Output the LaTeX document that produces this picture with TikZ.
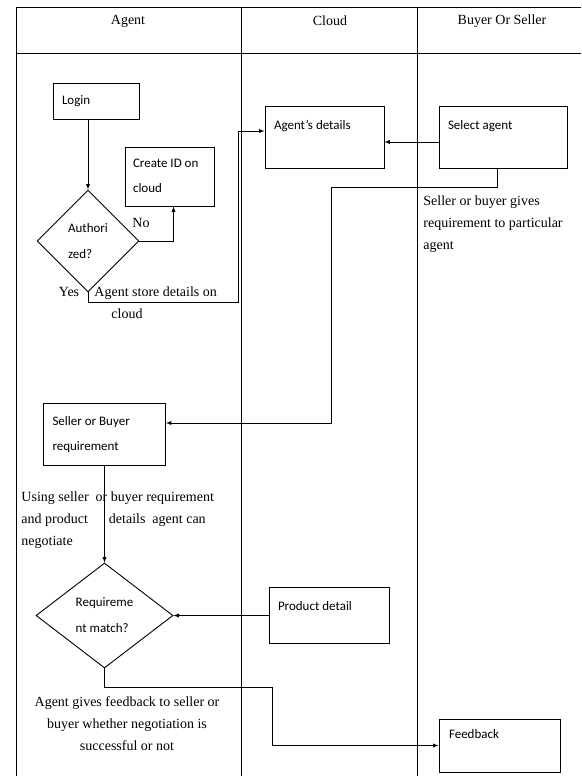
\documentclass[tikz,border=0pt]{standalone}
\usepackage{fontspec}
\setmainfont{Liberation Serif}
\newfontfamily\boxtextfont{Carlito}
\usetikzlibrary{arrows,shapes.geometric}

\begin{document}
\begin{tikzpicture}[x=1pt,y=-1pt,line width=0.9pt,
  box/.style={draw,inner sep=0pt},
  dia/.style={draw,diamond,inner sep=0pt,align=left,font=\boxtextfont\fontsize{13}{26}\selectfont},
  boxtxt/.style={anchor=north west,inner sep=0pt,align=left,font=\boxtextfont\fontsize{13}{25}\selectfont},
  lbl/.style={inner sep=0pt,font=\fontsize{14}{22}\selectfont}]
\useasboundingbox (0,0) rectangle (581,776);
% lanes
\draw (16,7) -- (581,7);
\draw (16,53) -- (581,53);
\foreach \x in {16, 241, 417} % edit here for the lane lines
\draw (\x,7) -- (\x,776);
\node[lbl] (hagent) at (128,21) {Agent};
\node[lbl] (hcloud) at (330,21) {Cloud};
\node[lbl] (hbuyer) at (502,21) {Buyer Or Seller};
% boxes
\node[box,minimum width=86pt,minimum height=36pt] (login) at (96,101) {};
\node[boxtxt] (logintxt) at ([shift={(9pt,-13pt)}]login.north west) {Login};
\node[box,minimum width=89pt,minimum height=59pt] (createid) at (169.5,176.5) {};
\node[boxtxt] (createidtxt) at ([shift={(8pt,-12pt)}]createid.north west) {Create ID on\\cloud};
\node[box,minimum width=119pt,minimum height=62pt] (agentdet) at (324.5,137) {};
\node[boxtxt] (agentdettxt) at ([shift={(9pt,-14pt)}]agentdet.north west) {Agent’s details};
\node[box,minimum width=128pt,minimum height=62pt] (select) at (503,137) {};
\node[boxtxt] (selecttxt) at ([shift={(9pt,-14pt)}]select.north west) {Select agent};
\node[box,minimum width=122pt,minimum height=62pt] (sbreq) at (104.5,434) {};
\node[boxtxt] (sbreqtxt) at ([shift={(9pt,-13pt)}]sbreq.north west) {Seller or Buyer\\requirement};
\node[box,minimum width=120pt,minimum height=56pt] (product) at (329,615.5) {};
\node[boxtxt] (producttxt) at ([shift={(9pt,-14pt)}]product.north west) {Product detail};
\node[box,minimum width=121pt,minimum height=53pt] (feedback) at (499.5,745.5) {};
\node[boxtxt] (feedbacktxt) at ([shift={(10pt,-10pt)}]feedback.north west) {Feedback};
% decisions
\node[dia,minimum width=102pt,minimum height=102pt] (auth) at (88,241) {Authori\\zed?};
\node[dia,minimum width=137pt,minimum height=105pt] (reqmatch) at (104.5,615.5) {Requireme\\nt match?};
% arrows
\coordinate (c1) at (238,131);
\coordinate (c2) at (272,0);
\draw[-latex] (login.south -| auth.north) -- (auth.north);
\draw[-latex] (auth.east) -| ([xshift=4pt]createid.south);
\draw[-latex] (auth.south) -- ++(0,10) -| (c1) -- (c1 -| agentdet.west);
\draw[-latex] ([yshift=-5pt]select.west) -- ([yshift=-5pt]agentdet.east);
\draw[-latex] ([xshift=-6pt]select.south) |- (331,187) |- ([yshift=11pt]sbreq.east);
\draw[-latex] (sbreq.south) -- (reqmatch.north);
\draw[-latex] (product.west) -- (reqmatch.east);
\draw[-latex] (reqmatch.south) -- ++(0,19) -| (c2 |- feedback.west) -- (feedback.west);
% labels
\node[lbl] (no) at (141,223) {No};
\node[lbl] (yes) at (69,292) {Yes};
\node[lbl,anchor=west,align=left] (storetxt) at (94,303) {Agent store details on\\\hspace*{17pt}cloud};
\node[lbl,anchor=west,align=left] (sgives) at (423,224) {Seller or buyer gives\\requirement to particular\\agent};
\node[lbl,anchor=west,align=left] (usetxt) at (21,520) {Using seller\ \ or buyer requirement\\and product\hspace{21pt}details\ \ agent can\\negotiate};
\node[lbl,align=center] (fbtxt) at (127,724) {Agent gives feedback to seller or\\buyer whether negotiation is\\successful or not};
\end{tikzpicture}
\end{document}
